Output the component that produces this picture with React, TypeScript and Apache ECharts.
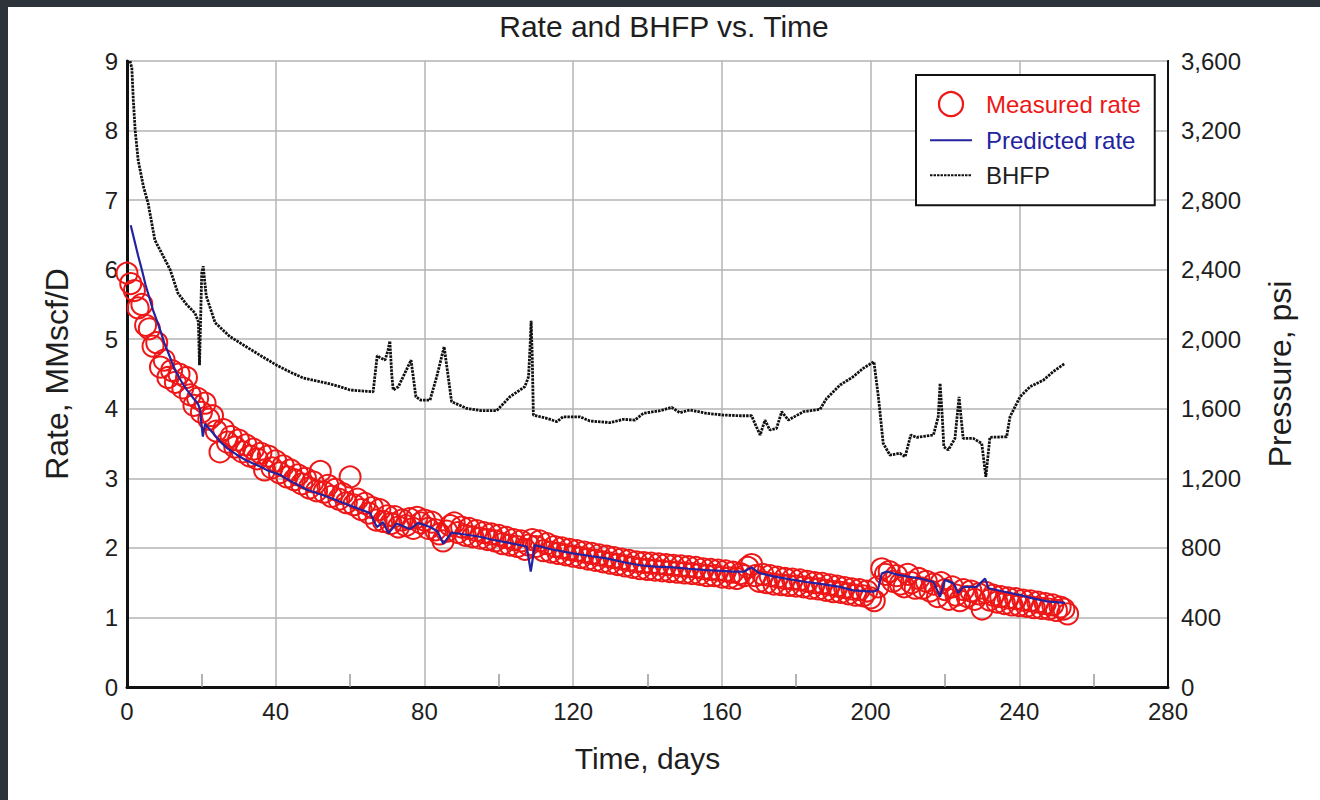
import { useEffect, useRef } from "react";
import * as echarts from "echarts";

const chartTitle = "Rate and BHFP vs. Time";
const xAxisName = "Time, days";
const leftAxisName = "Rate, MMscf/D";
const rightAxisName = "Pressure, psi";
const seriesNames = ["Measured rate", "Predicted rate", "BHFP"];

// Measured rate, one reading per day starting at day 0 (MMscf/D)
const measuredStartDay = 0;
const measuredRate = [
  5.95, 5.8, 5.7, 5.45, 5.5, 5.2, 5.15, 4.9, 4.95, 4.6,
  4.7, 4.45, 4.55, 4.38, 4.5, 4.3, 4.45, 4.2, 4.05, 4.15,
  3.95, 4.08, 3.85, 3.9, 3.68, 3.38, 3.7, 3.52, 3.6, 3.45,
  3.55, 3.38, 3.48, 3.32, 3.42, 3.28, 3.36, 3.12, 3.32, 3.15,
  3.25, 3.08, 3.18, 3.02, 3.12, 2.98, 3.05, 2.92, 3.0, 2.86,
  2.95, 2.82, 3.1, 2.8, 2.9, 2.74, 2.84, 2.7, 2.78, 2.65,
  3.02, 2.62, 2.7, 2.55, 2.64, 2.5, 2.58, 2.4, 2.55, 2.38,
  2.46, 2.35, 2.45, 2.3, 2.4, 2.32, 2.42, 2.28, 2.44, 2.36,
  2.4, 2.28, 2.37, 2.26, 2.2, 2.1, 2.24, 2.32, 2.36, 2.22,
  2.3, 2.18, 2.28, 2.16, 2.25, 2.14, 2.22, 2.12, 2.2, 2.1,
  2.18, 2.06, 2.15, 2.04, 2.12, 2.02, 2.1, 1.98, 2.04, 2.12,
  2.02, 2.1, 1.96, 2.06, 1.94, 2.02, 1.92, 2.0, 1.9, 1.98,
  1.88, 1.96, 1.86, 1.94, 1.84, 1.92, 1.82, 1.9, 1.8, 1.88,
  1.78, 1.86, 1.76, 1.84, 1.74, 1.82, 1.72, 1.8, 1.7, 1.79,
  1.69, 1.78, 1.68, 1.77, 1.67, 1.76, 1.66, 1.75, 1.65, 1.74,
  1.64, 1.73, 1.63, 1.72, 1.62, 1.7, 1.6, 1.69, 1.6, 1.68,
  1.58, 1.67, 1.57, 1.65, 1.56, 1.63, 1.6, 1.72, 1.76, 1.6,
  1.52, 1.62, 1.5, 1.6, 1.48, 1.58, 1.47, 1.56, 1.46, 1.55,
  1.45, 1.54, 1.44, 1.52, 1.42, 1.5, 1.41, 1.49, 1.39, 1.47,
  1.37, 1.45, 1.36, 1.43, 1.34, 1.41, 1.32, 1.4, 1.31, 1.38,
  1.28, 1.24, 1.44, 1.7, 1.62, 1.66, 1.52, 1.6, 1.48, 1.44,
  1.62, 1.5, 1.42, 1.56, 1.42, 1.52, 1.38, 1.48, 1.3, 1.5,
  1.4, 1.26, 1.44, 1.32, 1.24, 1.4, 1.3, 1.38, 1.26, 1.34,
  1.12, 1.36, 1.25, 1.32, 1.22, 1.3, 1.2, 1.28, 1.18, 1.27,
  1.17, 1.25, 1.16, 1.24, 1.14, 1.22, 1.13, 1.2, 1.12, 1.18,
  1.1, 1.15, 1.12, 1.05,
];

// Predicted rate: [day, MMscf/D]
const predictedRate = [
  [1, 6.64], [2, 6.42], [3, 6.2], [4, 6.0], [5, 5.78], [6, 5.6], [7, 5.42],
  [8, 5.27], [9, 5.12], [10, 4.95], [11, 4.82], [12, 4.68], [13, 4.55],
  [14, 4.45], [15, 4.36], [16, 4.28], [17, 4.21], [18, 4.14], [19, 4.08],
  [19.6, 4.0], [20.4, 3.6], [21, 3.78], [22, 3.72], [23, 3.66], [25, 3.53],
  [27, 3.43], [29.5, 3.34], [32, 3.26], [35.8, 3.17], [38, 3.11], [41.2, 3.05],
  [44, 2.96], [48.3, 2.84], [53.7, 2.74], [57, 2.67], [60.9, 2.59], [65.4, 2.5],
  [67.2, 2.3], [68.9, 2.37], [70.3, 2.21], [72.5, 2.35], [76.1, 2.27],
  [78.3, 2.36], [81.5, 2.3], [83.5, 2.24], [85.1, 2.06], [87.3, 2.22],
  [90, 2.2], [94.9, 2.16], [98, 2.12], [102.1, 2.08], [107.5, 2.02],
  [108.6, 1.66], [109.7, 2.04], [114, 1.98], [120, 1.92], [125, 1.88],
  [129, 1.85], [134, 1.79], [138, 1.75], [142, 1.73], [146.9, 1.72],
  [151, 1.7], [155.9, 1.68], [160, 1.67], [163, 1.66], [166, 1.66],
  [168, 1.72], [170, 1.64], [173.8, 1.59], [178, 1.55], [182.8, 1.51],
  [187, 1.48], [191.8, 1.44], [195.3, 1.39], [200.7, 1.37], [202, 1.4],
  [203, 1.63], [204.3, 1.66], [207, 1.62], [209.7, 1.59], [213.3, 1.56],
  [216.9, 1.51], [218.7, 1.3], [220, 1.54], [222.3, 1.49], [223.6, 1.35],
  [224.9, 1.44], [228.5, 1.44], [230.8, 1.56], [231.7, 1.42], [236, 1.37],
  [240.2, 1.32], [244, 1.27], [247.4, 1.23], [252.3, 1.21],
];

// Bottom-hole flowing pressure: [day, psi]
const bhfp = [
  [0.8, 3600], [1.3, 3560], [1.7, 3375], [2.2, 3200], [3.0, 3030], [4.4, 2880],
  [5.7, 2780], [7.5, 2570], [9.8, 2475], [11.6, 2400], [13.7, 2265], [16, 2200],
  [18.3, 2150], [19.2, 2100], [19.5, 1850], [20.1, 2380], [20.5, 2420],
  [21.3, 2250], [23.7, 2095], [27.7, 2015], [32.2, 1955], [36, 1905],
  [40.3, 1850], [44, 1810], [47.4, 1777], [53.7, 1748], [57.3, 1727],
  [60, 1708], [66.2, 1698], [67.3, 1905], [68, 1895], [69.4, 1880],
  [70.2, 1935], [70.7, 1990], [71.2, 1800], [71.6, 1708], [73, 1727],
  [76.4, 1880], [77.7, 1669], [79, 1650], [81.5, 1650], [83.3, 1784],
  [85.3, 1957], [86.3, 1800], [87.3, 1641], [91.4, 1602], [95, 1590],
  [99.4, 1589], [103, 1669], [107, 1727], [108, 1784], [108.4, 1950],
  [108.7, 2106], [109, 1900], [109.3, 1564], [112.9, 1545], [115.6, 1526],
  [117.3, 1554], [121.8, 1554], [124.5, 1530], [129.9, 1520], [133.5, 1539],
  [136.6, 1535], [138.9, 1574], [143.4, 1589], [146.5, 1608], [148.7, 1577],
  [151.4, 1593], [155.9, 1574], [160.4, 1564], [164.9, 1560], [168, 1560],
  [169, 1510], [170.3, 1449], [171.6, 1535], [172.9, 1478], [174.7, 1487],
  [176.1, 1583], [177.9, 1535], [181.9, 1583], [186.4, 1597], [188.2, 1660],
  [191.8, 1737], [195.3, 1784], [198, 1832], [200.9, 1871], [202.1, 1669],
  [203.4, 1401], [205.2, 1334], [207.9, 1344], [209.3, 1324], [210.8, 1449],
  [212.4, 1436], [216.9, 1449], [218.2, 1554], [218.7, 1746], [219.3, 1550],
  [219.7, 1382], [220.9, 1363], [222.7, 1430], [223.8, 1669], [224.9, 1430],
  [227.6, 1430], [229.9, 1401], [231, 1209], [232.1, 1436], [236.6, 1439],
  [237.5, 1554], [240.2, 1669], [242.9, 1727], [246.5, 1765], [249.1, 1813],
  [252.3, 1861],
];

const xMin = 0, xMax = 280, xInterval = 40;
const rateMin = 0, rateMax = 9, rateInterval = 1;
const pMin = 0, pMax = 3600, pInterval = 400;

const FONT = "'Liberation Sans', Arial, Helvetica, sans-serif";
const RED = "#ee1616";
const BLUE = "#2323a0";
const INK = "#1e1e1e";

export default function App() {
  const ref = useRef<HTMLDivElement>(null);

  useEffect(() => {
    document.body.style.margin = "0";
    const chart = echarts.init(ref.current!, null, { renderer: "svg" });
    const measuredData = measuredRate.map((v, i) => [measuredStartDay + i, v]);

    chart.setOption({
      animation: false,
      backgroundColor: "#ffffff",
      textStyle: { fontFamily: FONT },
      title: {
        text: chartTitle,
        left: "center",
        top: 4,
        padding: 0,
        textStyle: { fontFamily: FONT, fontSize: 30, fontWeight: "normal", color: INK },
      },
      legend: {
        orient: "vertical",
        left: 908,
        top: 68,
        padding: [16, 14, 18, 13],
        itemGap: 11,
        itemWidth: 42,
        itemHeight: 24,
        borderColor: "#111",
        borderWidth: 2,
        backgroundColor: "#fff",
        selectedMode: false,
        textStyle: { fontFamily: FONT, fontSize: 24, padding: [0, 0, 0, 9] },
        data: [
          { name: seriesNames[0], textStyle: { color: RED }, itemStyle: { borderWidth: 2.2 } },
          { name: seriesNames[1], textStyle: { color: BLUE }, itemStyle: { opacity: 0 } },
          { name: seriesNames[2], textStyle: { color: INK }, itemStyle: { opacity: 0 } },
        ],
      },
      grid: {
        left: 119,
        right: 152,
        top: 54,
        bottom: 113,
        show: true,
        borderColor: "#111",
        borderWidth: 2,
        containLabel: false,
      },
      xAxis: {
        type: "value",
        min: xMin,
        max: xMax,
        interval: xInterval,
        name: xAxisName,
        nameLocation: "middle",
        nameGap: 56,
        nameTextStyle: { fontFamily: FONT, fontSize: 30, color: INK },
        axisLine: { show: true, lineStyle: { color: "#111", width: 3 } },
        axisTick: { show: false, inside: true },
        minorTick: { show: true, splitNumber: 2, length: 13, lineStyle: { color: "#9a9a9a", width: 1.5 } },
        axisLabel: { margin: 12, fontFamily: FONT, fontSize: 24, color: INK },
        splitLine: { show: true, lineStyle: { color: "#b4b4b4", width: 1.5 } },
      },
      yAxis: [
        {
          type: "value",
          position: "left",
          min: rateMin,
          max: rateMax,
          interval: rateInterval,
          name: leftAxisName,
          nameLocation: "middle",
          nameGap: 54,
          nameTextStyle: { fontFamily: FONT, fontSize: 32, color: INK },
          axisLine: { show: true, lineStyle: { color: "#111", width: 3 } },
          axisTick: { show: false },
          axisLabel: { margin: 9, fontFamily: FONT, fontSize: 24, color: INK },
          splitLine: { show: true, lineStyle: { color: "#c6c6c6", width: 2 } },
        },
        {
          type: "value",
          position: "right",
          min: pMin,
          max: pMax,
          interval: pInterval,
          name: rightAxisName,
          nameLocation: "middle",
          nameGap: 96,
          nameTextStyle: { fontFamily: FONT, fontSize: 32, color: INK },
          axisLine: { show: true, lineStyle: { color: "#111", width: 2 } },
          axisTick: { show: false },
          axisLabel: {
            margin: 13,
            fontFamily: FONT,
            fontSize: 24,
            color: INK,
            formatter: (v: number) => v.toLocaleString("en-US"),
          },
          splitLine: { show: false },
        },
      ],
      series: [
        {
          name: seriesNames[0],
          type: "scatter",
          xAxisIndex: 0,
          yAxisIndex: 0,
          symbol: "circle",
          symbolSize: 21,
          z: 2,
          itemStyle: { color: "rgba(0,0,0,0)", borderColor: RED, borderWidth: 2, opacity: 1 },
          data: measuredData,
        },
        {
          name: seriesNames[1],
          type: "line",
          xAxisIndex: 0,
          yAxisIndex: 0,
          showSymbol: false,
          symbol: "circle",
          z: 3,
          itemStyle: { color: BLUE },
          lineStyle: { color: BLUE, width: 2.2 },
          data: predictedRate,
        },
        {
          name: seriesNames[2],
          type: "line",
          xAxisIndex: 0,
          yAxisIndex: 1,
          showSymbol: false,
          symbol: "circle",
          z: 4,
          itemStyle: { color: "#111" },
          lineStyle: { color: "#111", width: 2.8, type: [2.5, 1] },
          data: bhfp,
        },
      ],
    });

    return () => chart.dispose();
  }, []);

  return (
    <div style={{ width: 1320, height: 800, background: "#2c333b", position: "relative", overflow: "hidden" }}>
      <div ref={ref} style={{ position: "absolute", left: 8, top: 7, width: 1312, height: 793 }} />
    </div>
  );
}
